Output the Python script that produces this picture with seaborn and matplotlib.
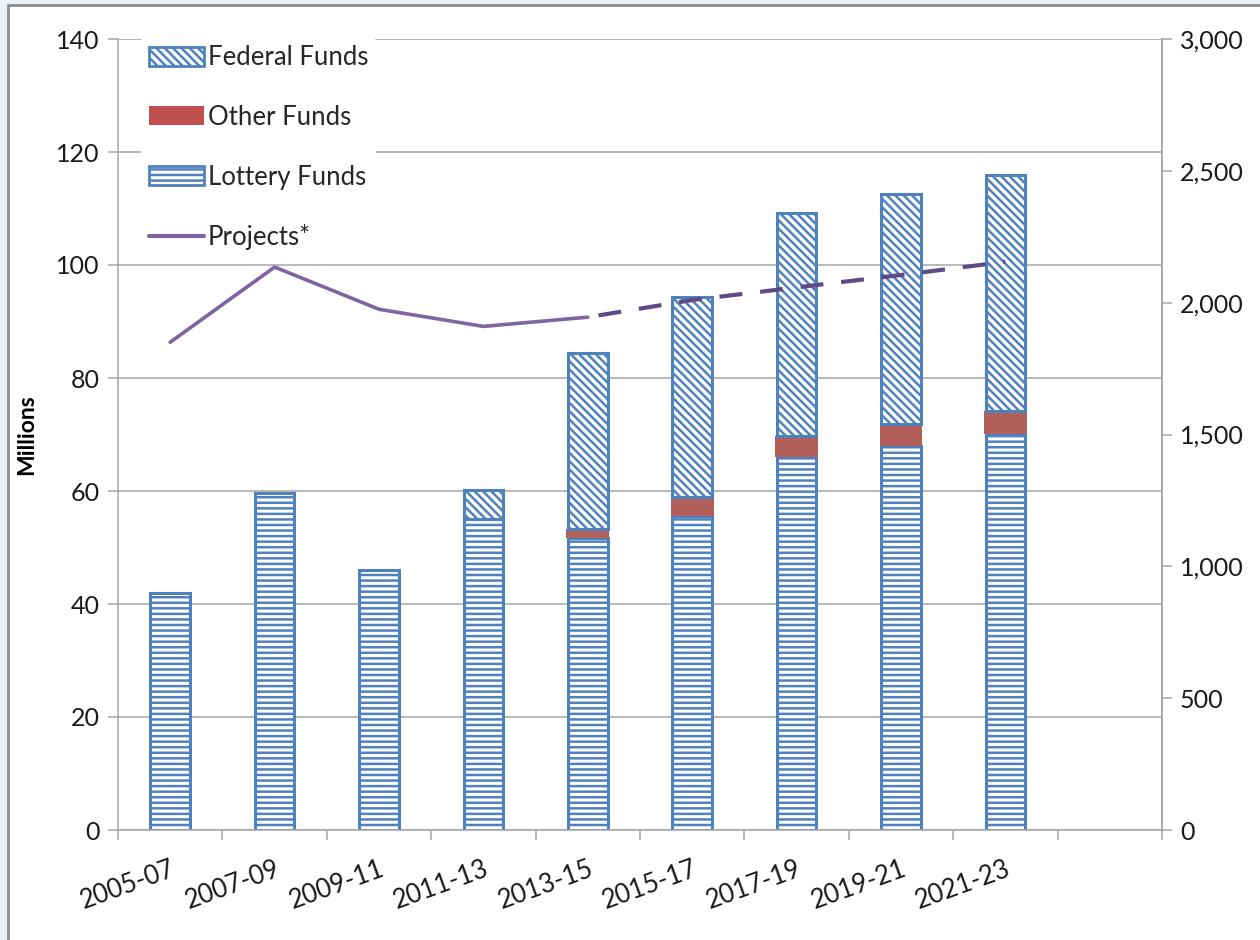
import numpy as np
import matplotlib
matplotlib.use("Agg")
import matplotlib.pyplot as plt
import seaborn as sns
from matplotlib.patches import Patch, Rectangle
from matplotlib.lines import Line2D
from matplotlib.ticker import FuncFormatter, MultipleLocator, FixedLocator

periods = ["2005-07", "2007-09", "2009-11", "2011-13", "2013-15",
           "2015-17", "2017-19", "2019-21", "2021-23"]
lottery_funds = [42.0, 59.6, 46.0, 55.0, 51.7, 55.6, 66.0, 68.0, 70.1]
other_funds = [0.0, 0.0, 0.0, 0.0, 1.6, 3.3, 3.7, 3.9, 4.1]
federal_funds = [0.0, 0.0, 0.0, 5.2, 31.1, 35.4, 39.5, 40.7, 41.7]
projects_actual = [1850, 2135, 1975, 1910, 1945]
projects_forecast = [1945, 2010, 2058, 2105, 2155]

BLUE = "#4F81BD"
RED = "#C0504D"
PURPLE = "#8064A2"
DARK_PURPLE = "#5F4A85"
GRID = "#A6A6A6"
TXT = "#1a1a1a"

sns.set_theme(style="white")
plt.rcParams["font.family"] = ["Lato", "DejaVu Sans"]
plt.rcParams["hatch.linewidth"] = 1.8
plt.rcParams["hatch.color"] = BLUE

fig = plt.figure(figsize=(12.6, 9.4), dpi=100)
fig.patch.set_facecolor("white")
ax = fig.add_axes([118 / 1260, 1 - 830 / 940, (1162 - 118) / 1260, (830 - 39) / 940])

order = periods + [" "]
bar_w = 0.38
lottery = np.array(lottery_funds)
other = np.array(other_funds)
federal = np.array(federal_funds)

sns.barplot(x=periods, y=lottery, order=order, width=bar_w, color="white",
            edgecolor=BLUE, linewidth=2.2, hatch="---", errorbar=None, ax=ax)
sns.barplot(x=periods, y=other, order=order, width=bar_w + 0.03, color=RED,
            linewidth=0, bottom=lottery, errorbar=None, ax=ax)
fed_idx = [i for i, v in enumerate(federal) if v > 0]
sns.barplot(x=[periods[i] for i in fed_idx], y=federal[fed_idx], order=order,
            width=bar_w, color="white", edgecolor=BLUE, linewidth=2.2,
            hatch="\\\\\\\\", bottom=(lottery + other)[fed_idx], errorbar=None, ax=ax)

ax.set_xlim(-0.5, len(order) - 0.5)
ax.set_ylim(0, 140)
ax.yaxis.set_major_locator(MultipleLocator(20))
ax.grid(axis="y", color=GRID, linewidth=1.1)
ax.set_axisbelow(True)

ax.spines["top"].set_visible(False)
for side in ["left", "bottom", "right"]:
    ax.spines[side].set_color(GRID)
    ax.spines[side].set_linewidth(1.1)

# x ticks: labels at centres, tick marks at category boundaries
ax.set_xticks(range(len(periods)))
ax.set_xticklabels(periods, rotation=20, ha="right", rotation_mode="anchor")
ax.xaxis.set_minor_locator(FixedLocator(np.arange(-0.5, len(order), 1.0)))
ax.tick_params(axis="x", which="major", length=0, pad=19, labelsize=18.5,
               labelcolor=TXT)
ax.tick_params(axis="x", which="minor", bottom=True, length=7, width=1.1,
               color=GRID, direction="out")
ax.tick_params(axis="y", left=True, length=7, width=1.1, color=GRID,
               direction="out", labelsize=18, labelcolor=TXT, pad=6)
ax.set_xlabel("")
ax.set_ylabel("Millions", fontsize=16.5, fontweight="bold", color="black")
ax.yaxis.set_label_coords(-0.077, 0.5)

# projects on secondary axis
ax2 = ax.twinx()
x_pos = np.arange(len(periods))
sns.lineplot(x=x_pos[:5], y=projects_actual, color=PURPLE, linewidth=2.6, ax=ax2)
sns.lineplot(x=x_pos[4:], y=projects_forecast, color=DARK_PURPLE, linewidth=3.0,
             linestyle=(7.2, (5.5, 4.3)), ax=ax2)
ax2.set_ylim(0, 3000)
ax2.set_xlim(-0.5, len(order) - 0.5)
ax2.yaxis.set_major_locator(MultipleLocator(500))
ax2.yaxis.set_major_formatter(FuncFormatter(lambda v, p: f"{int(v):,}"))
ax2.grid(False)
for side in ["top", "left", "bottom"]:
    ax2.spines[side].set_visible(False)
ax2.spines["right"].set_color(GRID)
ax2.spines["right"].set_linewidth(1.1)
ax2.tick_params(axis="y", right=True, length=7, width=1.1, color=GRID,
                direction="out", labelsize=18, labelcolor=TXT, pad=6)

handles = [
    Patch(facecolor="white", edgecolor=BLUE, linewidth=2.0, hatch="\\\\\\\\"),
    Patch(facecolor=RED, edgecolor="none"),
    Patch(facecolor="white", edgecolor=BLUE, linewidth=2.0, hatch="---"),
    Line2D([0], [0], color=PURPLE, linewidth=3.0),
]
labels = ["Federal Funds", "Other Funds", "Lottery Funds", "Projects*"]
leg = ax2.legend(handles, labels, loc="upper left", bbox_to_anchor=(0.022, 1.002),
                 frameon=True, facecolor="white", edgecolor="none", framealpha=1,
                 fontsize=18.5, handlelength=2.15, handleheight=0.75,
                 handletextpad=0.15, labelspacing=1.35, borderpad=0.3,
                 borderaxespad=0)
leg.get_frame().set_linewidth(0)

# light frame around the chart
fig.patches.append(Rectangle((0, 0), 7 / 1260, 1, transform=fig.transFigure,
                             facecolor="#EAF2F8", edgecolor="none", zorder=-1))
fig.patches.append(Rectangle((0, 1 - 4 / 940), 1, 4 / 940, transform=fig.transFigure,
                             facecolor="#EAF2F8", edgecolor="none", zorder=-1))
fig.lines.append(Line2D([8 / 1260, 8 / 1260], [0, 1 - 5 / 940], transform=fig.transFigure,
                        color="#8C8C8C", linewidth=2))
fig.lines.append(Line2D([8 / 1260, 1], [1 - 5 / 940, 1 - 5 / 940], transform=fig.transFigure,
                        color="#8C8C8C", linewidth=2))

fig.savefig("out.png", dpi=100)
